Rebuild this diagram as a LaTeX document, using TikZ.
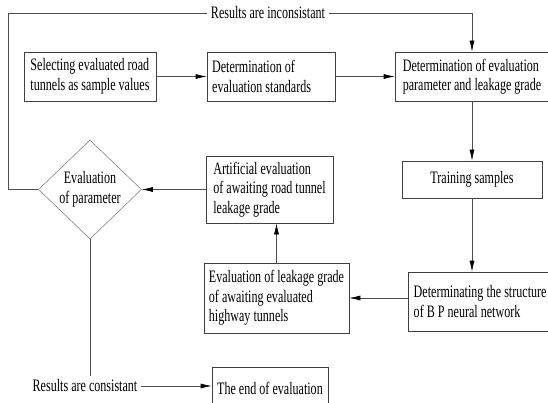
\documentclass[tikz,border=0pt]{standalone}
\usepackage{fontspec}
\setmainfont{Liberation Serif}[FakeStretch=0.69]
\usetikzlibrary{arrows.meta,shapes.geometric}

\begin{document}
\begin{tikzpicture}[x=1pt, y=-1pt,
        every node/.style={font=\fontsize{17.5}{19.5}\selectfont},
        stepbox/.style={draw=black!75, line width=0.6pt, align=left, inner xsep=5pt, inner ysep=2pt},
        decision/.style={diamond, draw=black!55, line width=0.5pt, align=center, inner sep=0pt, minimum width=103pt, minimum height=99pt},
        flow/.style={draw=black!70, line width=0.6pt},
        arr/.style={flow, -{Latex[length=11pt, width=5pt, black]}}]
        
        \useasboundingbox (0,0) rectangle (548,403);
        
        % first row
        \node[stepbox, minimum width=132pt, minimum height=49pt] (select) at (90,76.5) {Selecting evaluated road\\tunnels as sample values};
        \node[stepbox, minimum width=128pt, minimum height=49pt] (standard) at (271,76.5) {Determination of\phantom{ionstan}\\evaluation standards};
        \node[stepbox, minimum width=154pt, minimum height=49pt] (param) at (472,76.5) {Determination of evaluation\\parameter and leakage grade};
        
        % right column
        \node[stepbox, minimum width=140pt, minimum height=37pt, align=center] (train) at (472,179.5) {Training samples};
        \node[stepbox, minimum width=146pt, minimum height=59pt] (network) at (485,301.5) {Determinating the structure\\of B P neural network\phantom{ structu}};
        
        % middle column
        \node[stepbox, minimum width=141pt, minimum height=70pt] (grade) at (276.5,298) {Evaluation of leakage grade\\of awaiting evaluated\phantom{ grad}\\highway tunnels};
        \node[stepbox, minimum width=127pt, minimum height=67pt] (manual) at (269.5,189.5) {Artificial evaluation\\of awaiting road tunnel\\leakage grade};
        \node[stepbox, minimum width=116pt, minimum height=42pt] (finish) at (270,388) {The end of evaluation};
        
        % decision and results
        \node[decision] (check) at (90,189.5) {Evaluation\\of parameter};
        \node (inconsist) at (268,13) {Results are inconsistant};
        \node (consist) at (85,386) {Results are consistant};
        
        \draw[arr] (select) -- (standard);
        \draw[arr] (standard) -- (param);
        \draw[arr] (param) -- (train);
        \draw[arr] (train.south) -- (train.south |- network.north);
        \draw[arr] (network.west |- grade.east) -- (grade.east);
        \draw[arr] (grade.north) -- (grade.north |- manual.south);
        \draw[arr] (manual.west) -- (check.east);
        \draw[flow] (check.west) -- ++(-30,0) |- (inconsist.west);
        \draw[arr] (inconsist.east) -| (param.north);
        \draw[flow] (check.south) -- (check.south |- consist.north);
        \draw[arr] (consist.east) -- (consist.east -| finish.west);
    \end{tikzpicture}
\end{document}
